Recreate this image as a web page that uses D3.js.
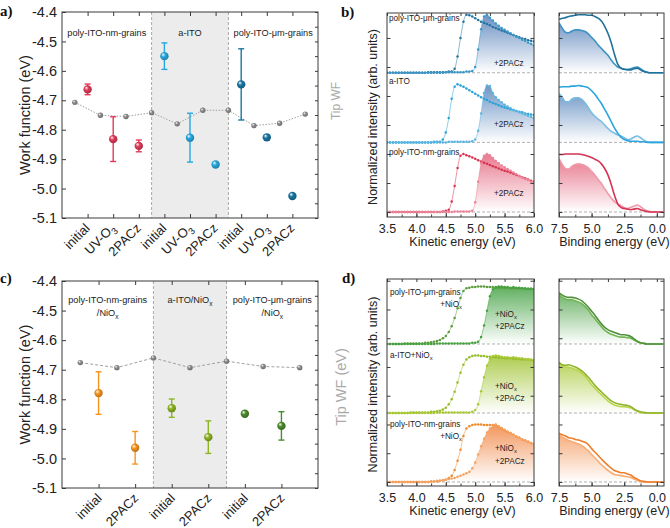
<!DOCTYPE html>
<html><head><meta charset="utf-8">
<script src="https://cdn.jsdelivr.net/npm/d3@7"></script>
<style>
body{margin:0;background:#fff;}
svg{display:block;font-family:"Liberation Sans",Arial,Helvetica,sans-serif;}
</style></head><body>
<svg id="fig" width="670" height="528"></svg>
<script>
// ---------------- DATA ----------------
const wfTickVals = [-4.4,-4.5,-4.6,-4.7,-4.8,-4.9,-5.0,-5.1];
const wfMinorVals = [-4.4,-4.45,-4.5,-4.55,-4.6,-4.65,-4.7,-4.75,-4.8,-4.85,-4.9,-4.95,-5.0,-5.05,-5.1];

// panel a
const catA = ["initial","UV-O_3","2PACz","initial","UV-O_3","2PACz","initial","UV-O_3","2PACz"];
const groupsA = ["poly-ITO-nm-grains","a-ITO","poly-ITO-\u03bcm-grains"];
const wfA  = [-4.663,-4.832,-4.855,-4.550,-4.827,-4.918,-4.646,-4.826,-5.025];
const errA = [0.018,0.076,0.020,0.045,0.083,0.0,0.121,0.008,0.0];
const tipA = [-4.707,-4.751,-4.755,-4.742,-4.780,-4.734,-4.734,-4.786,-4.778,-4.747];

// panel c
const catC = ["initial","2PACz","initial","2PACz","initial","2PACz"];
const groupsC = [["poly-ITO-nm-grains","/NiO_x"],["a-ITO/NiO_x"],["poly-ITO-\u03bcm-grains","/NiO_x"]];
const wfC  = [-4.779,-4.964,-4.830,-4.928,-4.849,-4.890];
const errC = [0.072,0.055,0.031,0.055,0.0,0.048];
const tipC = [-4.676,-4.693,-4.660,-4.693,-4.671,-4.689,-4.693];

// kinetic energy grid (eV)
const keGrid = [3.50,3.55,3.60,3.65,3.70,3.75,3.80,3.85,3.90,3.95,
 4.00,4.05,4.10,4.15,4.20,4.25,4.30,4.35,4.40,4.45,
 4.50,4.55,4.60,4.65,4.70,4.75,4.80,4.85,4.90,4.95,
 5.00,5.05,5.10,5.15,5.20,5.25,5.30,5.35,5.40,5.45,
 5.50,5.55,5.60,5.65,5.70,5.75,5.80,5.85,5.90,5.95,6.00];
const keTicks = [3.5,4.0,4.5,5.0,5.5,6.0];

// panel b cutoff spectra
const kinUmInit = [0,0,0,0,0,0,0,0,0,0, 0,0,0,0,0.01,0.01,0.01,0.01,0.01,0.01,
 0.01,0.02,0.02,0.07,0.28,0.60,0.88,1.00,0.99,0.97, 0.94,0.91,0.88,0.86,0.84,0.82,0.79,0.77,0.75,0.73,
 0.71,0.69,0.67,0.65,0.63,0.61,0.59,0.58,0.56,0.55,0.54];
const kinUmPac = [0,0,0,0,0,0,0,0,0,0, 0,0,0,0,0,0,0,0,0,0,
 0.01,0.01,0.01,0.01,0.01,0.01,0.01,0.02,0.02,0.03, 0.10,0.40,0.75,0.97,1.00,0.95,0.90,0.85,0.81,0.77,
 0.74,0.71,0.68,0.65,0.62,0.60,0.57,0.55,0.52,0.50,0.47];
const kinAitoInit = [0,0,0,0,0,0,0,0,0,0, 0,0,0,0,0,0,0.01,0.01,0.01,0.05,
 0.17,0.42,0.75,0.96,1.00,0.98,0.96,0.93,0.90,0.87, 0.84,0.81,0.78,0.75,0.73,0.70,0.68,0.66,0.64,0.62,
 0.60,0.59,0.57,0.56,0.54,0.53,0.52,0.50,0.49,0.48,0.47];
const kinAitoPac = [0,0,0,0,0,0,0,0,0,0, 0,0,0,0,0,0,0,0,0,0,
 0,0.01,0.01,0.01,0.01,0.01,0.01,0.01,0.01,0.02, 0.05,0.20,0.50,0.85,0.98,0.97,0.85,0.78,0.73,0.69,
 0.65,0.62,0.59,0.56,0.54,0.52,0.50,0.48,0.46,0.44,0.42];
const kinNmInit = [0,0,0,0,0,0,0,0,0,0, 0,0,0,0,0,0,0,0,0,0.01,
 0.02,0.04,0.18,0.45,0.76,0.97,1.00,0.98,0.96,0.94, 0.92,0.89,0.87,0.85,0.83,0.81,0.79,0.77,0.75,0.73,
 0.71,0.70,0.68,0.66,0.64,0.62,0.60,0.58,0.56,0.54,0.52];
const kinNmPac = [0,0,0,0,0,0,0,0,0,0, 0,0,0,0,0,0,0,0,0,0,
 0,0,0,0.01,0.01,0.01,0.01,0.01,0.01,0.02, 0.17,0.52,0.84,0.97,1.00,0.98,0.93,0.88,0.84,0.80,
 0.77,0.74,0.71,0.68,0.65,0.62,0.60,0.57,0.55,0.52,0.50];

// panel d cutoff spectra
const kinGrInit = [0,0,0,0,0,0,0.01,0.01,0.01,0.01, 0.01,0.01,0.01,0.02,0.02,0.03,0.04,0.05,0.07,0.10,
 0.14,0.21,0.31,0.45,0.62,0.80,0.92,0.97,0.98,0.99, 0.99,1.00,1.00,1.00,0.99,0.99,0.99,0.98,0.98,0.98,
 0.98,0.98,0.97,0.97,0.97,0.97,0.97,0.96,0.96,0.96,0.96];
const kinGrPac = [0,0,0,0,0,0,0,0,0,0, 0,0,0,0,0,0,0,0.01,0.01,0.01,
 0.01,0.01,0.01,0.01,0.01,0.01,0.01,0.01,0.01,0.02, 0.02,0.04,0.12,0.32,0.58,0.83,0.95,0.99,1.00,1.00,
 0.99,0.99,0.98,0.99,0.98,0.98,0.97,0.97,0.96,0.96,0.95];
const kinLiInit = [0,0,0,0,0,0,0,0,0.01,0.01, 0.01,0.01,0.01,0.01,0.01,0.02,0.02,0.03,0.04,0.06,
 0.09,0.15,0.24,0.37,0.53,0.70,0.84,0.93,0.97,0.99, 1.00,1.00,0.99,0.99,0.98,0.98,0.97,0.97,0.96,0.96,
 0.95,0.95,0.95,0.94,0.94,0.94,0.93,0.93,0.93,0.92,0.92];
const kinLiPac = [0,0,0,0,0,0,0,0,0,0, 0,0,0,0,0,0,0,0.01,0.01,0.01,
 0.01,0.01,0.01,0.01,0.01,0.01,0.01,0.01,0.01,0.02, 0.05,0.15,0.38,0.62,0.82,0.94,0.99,1.00,0.99,0.98,
 0.97,0.97,0.96,0.97,0.96,0.95,0.95,0.94,0.94,0.93,0.92];
const kinOrInit = [0,0,0,0,0,0,0,0,0,0, 0,0,0,0,0,0.01,0.01,0.01,0.02,0.03,
 0.04,0.07,0.11,0.21,0.37,0.56,0.80,0.93,0.97,0.99, 1.00,1.00,1.00,0.99,0.99,0.99,0.99,0.99,0.96,0.93,
 0.90,0.87,0.85,0.82,0.79,0.77,0.74,0.72,0.70,0.68,0.66];
const kinOrPac = [0,0,0,0,0,0,0,0,0,0, 0,0,0,0,0,0.01,0.01,0.02,0.02,0.03,
 0.04,0.05,0.06,0.07,0.09,0.11,0.13,0.15,0.18,0.24, 0.34,0.48,0.62,0.75,0.86,0.93,0.98,1.00,0.97,0.94,
 0.91,0.88,0.85,0.82,0.79,0.77,0.74,0.72,0.70,0.68,0.66];

// binding energy grid (eV)
const beGrid = [7.5,7.25,7.0,6.75,6.5,6.25,6.0,5.75,5.5,5.25,5.0,4.75,4.5,4.25,4.0,3.75,3.5,3.25,3.0,2.75,2.5,2.25,2.0,1.75,1.5,1.25,1.0,0.75,0.5,0.25,0.0,-0.25,-0.5];
const beTicks = [7.5,5.0,2.5,0.0];

// panel b valence band
const vbUmA   = [0.92,0.94,0.95,0.97,0.98,0.99,1.00,1.00,1.00,0.99,0.99,0.97,0.94,0.89,0.80,0.68,0.52,0.32,0.15,0.08,0.06,0.05,0.05,0.07,0.08,0.05,0.02,0.01,0,0,0,0,0];
const vbUmB   = [0.86,0.77,0.70,0.69,0.72,0.74,0.74,0.73,0.71,0.67,0.61,0.55,0.48,0.42,0.36,0.30,0.22,0.15,0.10,0.08,0.06,0.06,0.07,0.09,0.10,0.07,0.03,0.01,0,0,0,0,0];
const vbAitoA = [0.95,0.96,0.96,0.96,0.97,0.97,0.98,0.97,0.96,0.94,0.89,0.83,0.75,0.67,0.57,0.47,0.36,0.25,0.16,0.09,0.05,0.03,0.02,0.02,0.02,0.01,0.01,0,0,0,0,0,0];
const vbAitoB = [0.84,0.78,0.70,0.70,0.75,0.77,0.77,0.74,0.68,0.60,0.51,0.45,0.40,0.36,0.30,0.24,0.19,0.16,0.13,0.11,0.08,0.05,0.06,0.09,0.11,0.08,0.04,0.01,0,0,0,0,0];
const vbNmA   = [0.99,0.99,1.00,1.00,1.00,1.00,1.00,0.99,0.98,0.96,0.94,0.91,0.88,0.83,0.75,0.64,0.48,0.29,0.14,0.08,0.06,0.05,0.04,0.05,0.06,0.04,0.02,0.01,0,0,0,0,0];
const vbNmB   = [0.92,0.82,0.75,0.74,0.79,0.82,0.83,0.82,0.80,0.76,0.70,0.64,0.56,0.49,0.40,0.32,0.24,0.18,0.14,0.11,0.08,0.06,0.08,0.10,0.12,0.09,0.05,0.02,0.01,0,0,0,0];

// panel d valence band
const vbGrA = [0.89,0.85,0.82,0.81,0.81,0.80,0.78,0.75,0.70,0.64,0.57,0.50,0.42,0.35,0.29,0.25,0.22,0.20,0.18,0.16,0.16,0.15,0.13,0.09,0.05,0.02,0.01,0,0,0,0,0,0];
const vbGrB = [0.86,0.81,0.78,0.77,0.77,0.75,0.73,0.70,0.65,0.59,0.51,0.44,0.37,0.30,0.24,0.20,0.17,0.15,0.13,0.12,0.12,0.11,0.10,0.07,0.04,0.02,0.01,0,0,0,0,0,0];
const vbLiA = [0.88,0.84,0.83,0.84,0.82,0.80,0.77,0.73,0.68,0.62,0.55,0.48,0.42,0.37,0.31,0.26,0.21,0.18,0.16,0.15,0.14,0.13,0.11,0.07,0.04,0.02,0.01,0,0,0,0,0,0];
const vbLiB = [0.86,0.83,0.80,0.80,0.78,0.76,0.73,0.69,0.64,0.57,0.49,0.43,0.37,0.32,0.26,0.21,0.17,0.14,0.12,0.11,0.11,0.10,0.09,0.06,0.03,0.01,0,0,0,0,0,0,0];
const vbOrA = [0.85,0.82,0.80,0.77,0.76,0.74,0.73,0.71,0.69,0.65,0.58,0.52,0.46,0.40,0.34,0.29,0.24,0.20,0.18,0.16,0.16,0.14,0.12,0.08,0.05,0.02,0.01,0,0,0,0,0,0];
const vbOrB = [0.82,0.78,0.75,0.72,0.70,0.68,0.66,0.63,0.59,0.54,0.48,0.42,0.36,0.30,0.25,0.20,0.16,0.13,0.12,0.11,0.10,0.09,0.08,0.05,0.03,0.01,0,0,0,0,0,0,0];

// ---------------- STYLE ----------------
const palette = {red:"#e23a58", blue:"#27a8e0", navy:"#1a77a3", grey:"#8e8e8e",
                 orange:"#f7941d", lime:"#8db521", green:"#4a8c2b"};
const ptColA = ["red","red","red","blue","blue","blue","navy","navy","navy"];
const ptColC = ["orange","orange","lime","lime","green","green"];
const AX = "#3a3a3a";

const svg = d3.select("#fig");
const defs = svg.append("defs");

Object.entries(palette).forEach(([k,c]) => {
  const g = defs.append("radialGradient").attr("id","sph-"+k)
    .attr("cx","45%").attr("cy","45%").attr("r","60%").attr("fx","33%").attr("fy","30%");
  g.append("stop").attr("offset","0%").attr("stop-color","#ffffff");
  g.append("stop").attr("offset","40%").attr("stop-color",c);
  g.append("stop").attr("offset","100%").attr("stop-color",d3.color(c).darker(0.9));
});

function richText(sel, str, size) {
  const parts = str.split(/(_\w)/);
  let sub = false;
  parts.forEach(p => {
    if (!p) return;
    if (p[0] === "_") {
      sel.append("tspan").attr("font-size", size*0.72).attr("dy", size*0.28).text(p.slice(1));
      sub = true;
    } else {
      const t = sel.append("tspan").text(p);
      if (sub) { t.attr("dy", -size*0.28); sub = false; }
    }
  });
  return sel;
}

function styleAxis(g, fs) {
  g.select(".domain").remove();
  g.selectAll(".tick line").attr("stroke", AX);
  g.selectAll(".tick text").attr("font-size", fs).attr("fill", "#222")
    .attr("font-family", "'Liberation Sans',Arial,sans-serif");
}

function frame(left, top, right, bottom) {
  svg.append("rect").attr("x",left).attr("y",top).attr("width",right-left).attr("height",bottom-top)
    .attr("fill","none").attr("stroke",AX).attr("stroke-width",1);
}

// ---------------- WF PANELS ----------------
function wfPanel(o) {
  const n = o.values.length;
  const x = d3.scaleLinear().domain([0, n+1]).range([o.left, o.right]);
  const y = d3.scaleLinear().domain([-5.1, -4.4]).range([o.bottom, o.top]);
  const g = svg.append("g");
  g.append("rect").attr("x", x(o.seps[0])).attr("y", o.top)
    .attr("width", x(o.seps[1]) - x(o.seps[0])).attr("height", o.bottom - o.top).attr("fill", "#ececec");
  o.seps.forEach(s => g.append("line").attr("x1", x(s)).attr("x2", x(s)).attr("y1", o.top).attr("y2", o.bottom)
    .attr("stroke", "#a8a8a8").attr("stroke-dasharray", "3,2"));

  const idx = d3.range(1, n+1);
  styleAxis(g.append("g").attr("transform", `translate(${o.left},0)`)
    .call(d3.axisLeft(y).tickValues(wfTickVals).tickSizeInner(-4).tickSizeOuter(0).tickPadding(5)
      .tickFormat(d => d.toFixed(1))), 14.5);
  styleAxis(g.append("g").attr("transform", `translate(${o.right},0)`)
    .call(d3.axisRight(y).tickValues(wfMinorVals).tickSizeInner(-3).tickSizeOuter(0).tickFormat("")), 10);
  styleAxis(g.append("g").attr("transform", `translate(0,${o.bottom})`)
    .call(d3.axisBottom(x).tickValues(idx).tickSizeInner(-4).tickSizeOuter(0).tickFormat("")), 10);
  styleAxis(g.append("g").attr("transform", `translate(0,${o.top})`)
    .call(d3.axisTop(x).tickValues(idx).tickSizeInner(-4).tickSizeOuter(0).tickFormat("")), 10);

  // category labels
  o.cats.forEach((c, i) => {
    const t = g.append("text").attr("text-anchor", "end").attr("font-size", 13).attr("fill", "#222")
      .attr("transform", `translate(${x(i+1)+o.labDx},${o.bottom+o.labDy}) rotate(-45)`);
    richText(t, c, 13);
  });

  // group labels
  const bounds = [0, o.seps[0], o.seps[1], n+1];
  o.groups.forEach((lines, gi) => {
    const cx = (x(bounds[gi]) + x(bounds[gi+1])) / 2;
    lines.forEach((ln, li) => {
      const t = g.append("text").attr("x", cx).attr("y", o.groupY + li*o.groupDy)
        .attr("text-anchor", "middle").attr("font-size", 9.2).attr("fill", "#222");
      richText(t, ln, 9.2);
    });
  });

  // tip WF
  g.append("path").datum(o.tip)
    .attr("d", d3.line().x((d, i) => x(i + 0.5)).y(d => y(d)))
    .attr("fill", "none").attr("stroke", "#a0a0a0").attr("stroke-width", 1).attr("stroke-dasharray", o.tipDash);
  g.selectAll(".tip").data(o.tip).enter().append("circle")
    .attr("cx", (d, i) => x(i + 0.5)).attr("cy", d => y(d)).attr("r", 2.7).attr("fill", "url(#sph-grey)");

  // error bars + points
  o.values.forEach((v, i) => {
    const col = palette[o.cols[i]];
    const e = o.errs[i];
    if (e > 0) {
      const cx = x(i+1);
      g.append("line").attr("x1", cx).attr("x2", cx).attr("y1", y(v-e)).attr("y2", y(v+e))
        .attr("stroke", col).attr("stroke-width", 1.4);
      [v-e, v+e].forEach(w => g.append("line").attr("x1", cx-3).attr("x2", cx+3).attr("y1", y(w)).attr("y2", y(w))
        .attr("stroke", col).attr("stroke-width", 1.4));
    }
  });
  g.selectAll(".pt").data(o.values).enter().append("circle")
    .attr("cx", (d, i) => x(i+1)).attr("cy", d => y(d)).attr("r", 4.2)
    .attr("fill", (d, i) => `url(#sph-${o.cols[i]})`);

  frame(o.left, o.top, o.right, o.bottom);

  // axis titles
  svg.append("text").attr("transform", `translate(30,${(o.top+o.bottom)/2}) rotate(-90)`)
    .attr("text-anchor", "middle").attr("font-size", 14.5).attr("fill", "#222").text("Work function (eV)");
  svg.append("text").attr("transform", `translate(${o.tipX},${o.tipY}) rotate(-90)`)
    .attr("text-anchor", "middle").attr("font-size", o.tipSize).attr("fill", "#a9a9a9").text(o.tipLabel);
}

wfPanel({left:62, right:318, top:12, bottom:218, values:wfA, errs:errA, tip:tipA, cats:catA,
  cols:ptColA, seps:[3.5,6.5], groups:groupsA.map(s => [s]), groupY:36, groupDy:12,
  labDx:3, labDy:11, tipLabel:"Tip WF", tipX:340, tipY:101, tipSize:12, tipDash:"1.5,1.5"});
wfPanel({left:62, right:318, top:281, bottom:488, values:wfC, errs:errC, tip:tipC, cats:catC,
  cols:ptColC, seps:[2.5,4.5], groups:groupsC, groupY:303, groupDy:13,
  labDx:4, labDy:11, tipLabel:"Tip WF (eV)", tipX:346, tipY:387, tipSize:14.5, tipDash:"3,2"});

// ---------------- SPECTRA PANELS ----------------
let gradCount = 0;
function vGrad(color, yTop, yBot, op) {
  const id = "vg" + (gradCount++);
  const lg = defs.append("linearGradient").attr("id", id).attr("gradientUnits", "userSpaceOnUse")
    .attr("x1", 0).attr("x2", 0).attr("y1", yTop).attr("y2", yBot);
  lg.append("stop").attr("offset", "0%").attr("stop-color", color).attr("stop-opacity", op);
  lg.append("stop").attr("offset", "100%").attr("stop-color", color).attr("stop-opacity", 0);
  return "url(#" + id + ")";
}

function specAxes(x, y, o, xt, minor, fmt, yt) {
  const g = svg.append("g");
  styleAxis(g.append("g").attr("transform", `translate(0,${o.bottom})`)
    .call(d3.axisBottom(x).tickValues(minor).tickSizeInner(-2.5).tickSizeOuter(0).tickFormat("")), 10);
  styleAxis(g.append("g").attr("transform", `translate(0,${o.bottom})`)
    .call(d3.axisBottom(x).tickValues(xt).tickSizeInner(-4).tickSizeOuter(0).tickPadding(7).tickFormat(fmt)), 12.5);
  styleAxis(g.append("g").attr("transform", `translate(0,${o.top})`)
    .call(d3.axisTop(x).tickValues(minor).tickSizeInner(-3).tickSizeOuter(0).tickFormat("")), 10);
  styleAxis(g.append("g").attr("transform", `translate(${x.range()[0]},0)`)
    .call(d3.axisLeft(y).tickValues(yt).tickSizeInner(-3.5).tickSizeOuter(0).tickFormat("")), 10);
  styleAxis(g.append("g").attr("transform", `translate(${x.range()[1]},0)`)
    .call(d3.axisRight(y).tickValues(yt).tickSizeInner(-3.5).tickSizeOuter(0).tickFormat("")), 10);
}

function kinPanel(o) {
  const x = d3.scaleLinear().domain([3.5, 6.0]).range([o.left, o.right]);
  const y = d3.scaleLinear().domain(o.ydom).range([o.bottom, o.top]);
  const cid = "clipk" + o.top;
  defs.append("clipPath").attr("id", cid).append("rect")
    .attr("x", o.left).attr("y", o.top).attr("width", o.right - o.left).attr("height", o.bottom - o.top);
  const g = svg.append("g").attr("clip-path", `url(#${cid})`);
  o.groups.forEach(gr => {
    const off = gr.off;
    g.append("line").attr("x1", o.left).attr("x2", o.right).attr("y1", y(off)).attr("y2", y(off))
      .attr("stroke", "#b0b0b0").attr("stroke-dasharray", "3,2");
    g.append("path").datum(gr.pac)
      .attr("d", d3.area().x((d, i) => x(keGrid[i])).y0(y(off)).y1(d => y(off + d)).curve(d3.curveMonotoneX))
      .attr("fill", vGrad(gr.fill, y(off + 1), y(off), 0.82));
    [[gr.init, gr.cInit], [gr.pac, gr.cPac]].forEach(([arr, col]) => {
      g.append("path").datum(arr)
        .attr("d", d3.line().x((d, i) => x(keGrid[i])).y(d => y(off + d)).curve(d3.curveMonotoneX))
        .attr("fill", "none").attr("stroke", col).attr("stroke-width", 0.7).attr("stroke-opacity", 0.75);
      g.selectAll(null).data(arr).enter().append("circle")
        .attr("cx", (d, i) => x(keGrid[i])).attr("cy", d => y(off + d)).attr("r", 1.25).attr("fill", col);
    });
    gr.labels.forEach(l => {
      const t = svg.append("text").attr("x", l[1]).attr("y", l[2]).attr("font-size", 8.2)
        .attr("fill", "#222").attr("text-anchor", l[3] || "start");
      richText(t, l[0], 8.2);
    });
  });
  specAxes(x, y, o, keTicks, [3.5,3.75,4.0,4.25,4.5,4.75,5.0,5.25,5.5,5.75,6.0], d3.format(".1f"), o.yticks);
  frame(o.left, o.top, o.right, o.bottom);
  svg.append("text").attr("x", (o.left + o.right) / 2 + 2).attr("y", o.bottom + 29).attr("text-anchor", "middle")
    .attr("font-size", 12.5).attr("fill", "#222").text("Kinetic energy (eV)");
  svg.append("text").attr("transform", `translate(377,${(o.top + o.bottom) / 2 + 2}) rotate(-90)`)
    .attr("text-anchor", "middle").attr("font-size", 12.5).attr("fill", "#222").text("Normalized intensity (arb. units)");
}

function vbPanel(o) {
  const x = d3.scaleLinear().domain([7.5, -0.55]).range([o.left, o.right]);
  const y = d3.scaleLinear().domain(o.ydom).range([o.bottom, o.top]);
  const cid = "clipv" + o.top;
  defs.append("clipPath").attr("id", cid).append("rect")
    .attr("x", o.left).attr("y", o.top).attr("width", o.right - o.left).attr("height", o.bottom - o.top);
  const g = svg.append("g").attr("clip-path", `url(#${cid})`);
  o.groups.forEach(gr => {
    const off = gr.off;
    g.append("line").attr("x1", o.left).attr("x2", o.right).attr("y1", y(off)).attr("y2", y(off))
      .attr("stroke", "#b0b0b0").attr("stroke-dasharray", "3,2");
    g.append("path").datum(gr.B)
      .attr("d", d3.area().x((d, i) => x(beGrid[i])).y0(y(off)).y1(d => y(off + d)).curve(d3.curveMonotoneX))
      .attr("fill", vGrad(gr.fill, y(off + 0.9), y(off), 0.8));
    [[gr.B, gr.cB], [gr.A, gr.cA]].forEach(([arr, col]) => {
      g.append("path").datum(arr)
        .attr("d", d3.line().x((d, i) => x(beGrid[i])).y(d => y(off + d)).curve(d3.curveMonotoneX))
        .attr("fill", "none").attr("stroke", col).attr("stroke-width", 1.6);
    });
  });
  specAxes(x, y, o, beTicks, [7.5,6.25,5.0,3.75,2.5,1.25,0.0], d3.format(".1f"), o.yticks);
  frame(o.left, o.top, o.right, o.bottom);
  svg.append("text").attr("x", (o.left + o.right) / 2 + 3).attr("y", o.bottom + 29).attr("text-anchor", "middle")
    .attr("font-size", 12.5).attr("fill", "#222").text("Binding energy (eV)");
}

const ytB = [0,0.5,1.0,1.5,2.0,2.5,3.0];
kinPanel({left:387, right:534, top:13, bottom:217, ydom:[-0.086, 3.43], yticks:ytB, groups:[
  {off:2.4, init:kinUmInit, pac:kinUmPac, cInit:"#24749f", cPac:"#3c97c6", fill:"#4a79b6",
   labels:[["poly-ITO-\u03bcm-grains",389,21],["+2PACz",494,66]]},
  {off:1.2, init:kinAitoInit, pac:kinAitoPac, cInit:"#28a3da", cPac:"#5ab5e0", fill:"#4a7cb8",
   labels:[["a-ITO",389,84],["+2PACz",494,127]]},
  {off:0, init:kinNmInit, pac:kinNmPac, cInit:"#d8334f", cPac:"#ec8197", fill:"#e35f78",
   labels:[["poly-ITO-nm-grains",389,155],["+2PACz",494,196]]}
]});
vbPanel({left:559, right:664, top:13, bottom:217, ydom:[-0.086, 3.43], yticks:ytB, groups:[
  {off:2.4, A:vbUmA, B:vbUmB, cA:"#22729b", cB:"#3c93c4", fill:"#4a79b6"},
  {off:1.2, A:vbAitoA, B:vbAitoB, cA:"#2aa4dc", cB:"#79bde2", fill:"#4a7cb8"},
  {off:0, A:vbNmA, B:vbNmB, cA:"#d63352", cB:"#ef9aaa", fill:"#e35f78"}
]});

const ytD = [0,0.5,1.0,1.5,2.0,2.5,3.0,3.5];
kinPanel({left:387, right:534, top:279, bottom:486, ydom:[-0.07, 3.53], yticks:ytD, groups:[
  {off:2.4, init:kinGrInit, pac:kinGrPac, cInit:"#5c9c3c", cPac:"#45a03f", fill:"#3d9e3c",
   labels:[["poly-ITO-\u03bcm-grains",390,295],["+NiO_x",462,307,"end"],["+NiO_x",495,317],["+2PACz",495,329]]},
  {off:1.2, init:kinLiInit, pac:kinLiPac, cInit:"#95bd28", cPac:"#a8c935", fill:"#9cc12a",
   labels:[["a-ITO+NiO_x",390,358],["+NiO_x",495,389],["+2PACz",495,401]]},
  {off:0, init:kinOrInit, pac:kinOrPac, cInit:"#ef8a2c", cPac:"#f4a262", fill:"#f07f3a",
   labels:[["poly-ITO-nm-grains",390,427],["+NiO_x",462,439,"end"],["+NiO_x",495,451],["+2PACz",495,464]]}
]});
vbPanel({left:559, right:664, top:279, bottom:486, ydom:[-0.07, 3.53], yticks:ytD, groups:[
  {off:2.4, A:vbGrA, B:vbGrB, cA:"#4f913b", cB:"#72b552", fill:"#48a042"},
  {off:1.2, A:vbLiA, B:vbLiB, cA:"#8db42a", cB:"#bcd44a", fill:"#a6c732"},
  {off:0, A:vbOrA, B:vbOrB, cA:"#f07d2a", cB:"#f6ad72", fill:"#f39050"}
]});

// panel letters
[["a)",0,16],["b)",341,17],["c)",0,283],["d)",342,283]].forEach(([t, px, py]) =>
  svg.append("text").attr("x", px).attr("y", py).attr("font-family", "'Liberation Serif','Times New Roman',serif")
    .attr("font-weight", "bold").attr("font-size", 15).attr("fill", "#111").text(t));
</script>
</body></html>
